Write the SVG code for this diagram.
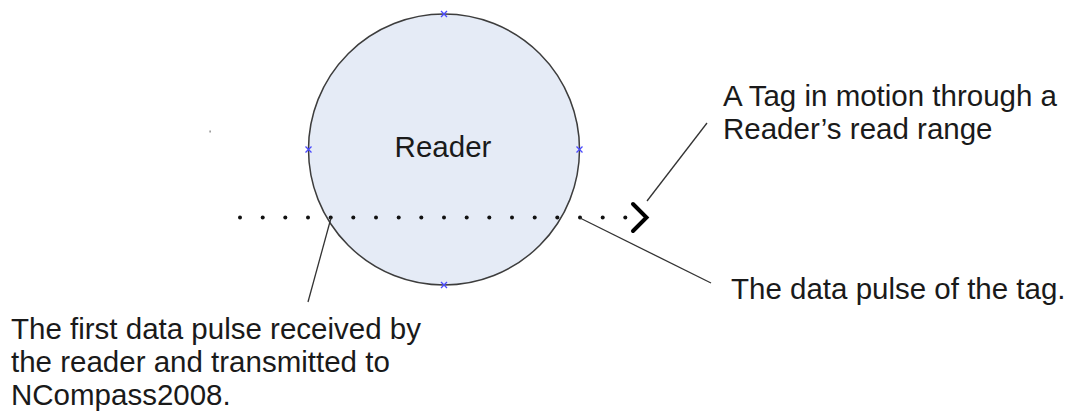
<svg xmlns="http://www.w3.org/2000/svg" width="1072" height="415" viewBox="0 0 1072 415">
  <style>
    .label { font-family: "Liberation Sans", Arial, sans-serif; font-size: 29.5px; fill: #1a1a1a; }
    .leader { stroke: #333333; stroke-width: 1.3; fill: none; }
    .pulse { fill: #111111; }
    .handle { stroke: #4a4aff; stroke-width: 1.3; fill: none; }
  </style>
  <defs>
    <path id="xmark" class="handle" d="M-3,-3 L3,3 M-3,3 L3,-3"/>
  </defs>
  <rect width="1072" height="415" fill="#ffffff"/>

  <!-- stray mark -->
  <rect x="209.5" y="130.5" width="1.2" height="2" fill="#777777"/>

  <!-- reader and its read range -->
  <g id="reader">
    <circle cx="444" cy="149.5" r="135.5" fill="#e5ebf6" stroke="#3d3d3d" stroke-width="1.5"/>
    <text class="label" x="443" y="157" text-anchor="middle">Reader</text>
    <use href="#xmark" x="444" y="14"/>
    <use href="#xmark" x="308.5" y="149.5"/>
    <use href="#xmark" x="579.5" y="149.5"/>
    <use href="#xmark" x="444" y="285"/>
  </g>

  <!-- tag path: pulses and direction of motion -->
  <g id="tag-path">
    <g class="pulse">
      <circle cx="240" cy="217.5" r="2"/>
      <circle cx="262.7" cy="217.5" r="2"/>
      <circle cx="285.3" cy="217.5" r="2"/>
      <circle cx="308" cy="217.5" r="2"/>
      <circle cx="330.7" cy="217.5" r="2"/>
      <circle cx="353.3" cy="217.5" r="2"/>
      <circle cx="376" cy="217.5" r="2"/>
      <circle cx="398.7" cy="217.5" r="2"/>
      <circle cx="421.3" cy="217.5" r="2"/>
      <circle cx="444" cy="217.5" r="2"/>
      <circle cx="466.7" cy="217.5" r="2"/>
      <circle cx="489.3" cy="217.5" r="2"/>
      <circle cx="512" cy="217.5" r="2"/>
      <circle cx="534.7" cy="217.5" r="2"/>
      <circle cx="557.3" cy="217.5" r="2"/>
      <circle cx="580" cy="217.5" r="2"/>
      <circle cx="602.7" cy="217.5" r="2"/>
      <circle cx="625.3" cy="217.5" r="2"/>
    </g>
    <path d="M633,204 L646.5,217.5 L633,231" fill="none" stroke="#000000" stroke-width="4" stroke-linecap="round" stroke-linejoin="miter"/>
  </g>

  <!-- callout leaders -->
  <g id="connectors">
    <line class="leader" x1="647" y1="201" x2="707" y2="123"/>
    <line class="leader" x1="580" y1="218" x2="711" y2="283"/>
    <line class="leader" x1="331" y1="218" x2="308" y2="302"/>
  </g>

  <g id="label-motion">
    <text class="label" x="723" y="106">A Tag in motion through a</text>
    <text class="label" x="723" y="139">Reader’s read range</text>
  </g>

  <g id="label-pulse">
    <text class="label" x="731" y="299">The data pulse of the tag.</text>
  </g>

  <g id="label-first">
    <text class="label" x="11" y="339">The first data pulse received by</text>
    <text class="label" x="11" y="372">the reader and transmitted to</text>
    <text class="label" x="11" y="405">NCompass2008.</text>
  </g>
</svg>
